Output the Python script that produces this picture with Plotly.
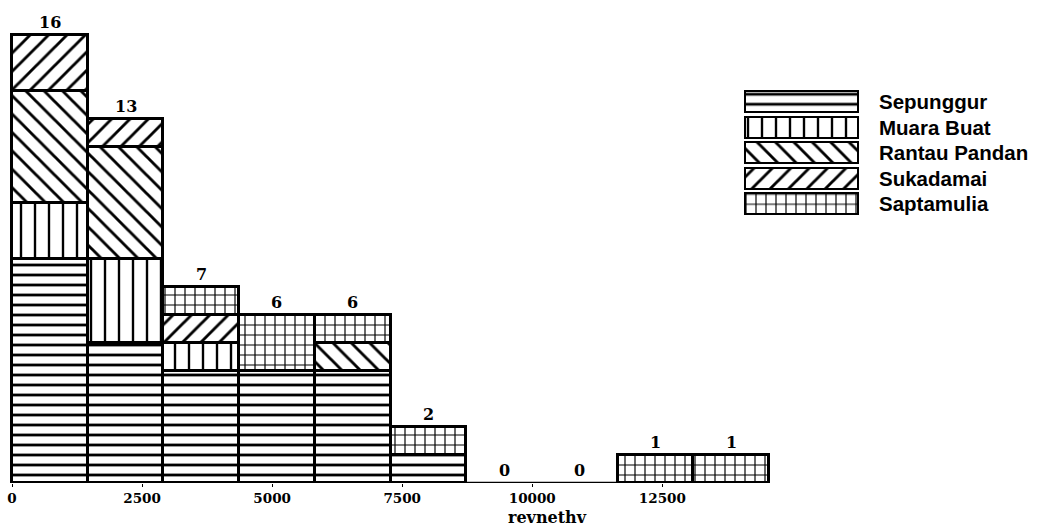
import plotly.graph_objects as go

# ---- data -----------------------------------------------------------------
villages = ["Sepunggur", "Muara Buat", "Rantau Pandan", "Sukadamai", "Saptamulia"]

bin_start = 0
bin_width = 1455
n_bins = 10

sepunggur = [8, 5, 4, 4, 4, 1, 0, 0, 0, 0]
muara_buat = [2, 3, 1, 0, 0, 0, 0, 0, 0, 0]
rantau_pandan = [4, 4, 0, 0, 1, 0, 0, 0, 0, 0]
sukadamai = [2, 1, 1, 0, 0, 0, 0, 0, 0, 0]
saptamulia = [0, 0, 1, 2, 1, 1, 0, 0, 1, 1]

tick_values = [0, 2500, 5000, 7500, 10000, 12500]
tick_labels = ["0", "2500", "5000", "7500", "10000", "12500"]
axis_title = "revnethv"

# ---- styling --------------------------------------------------------------
series = [sepunggur, muara_buat, rantau_pandan, sukadamai, saptamulia]
hatches = {
    "Sepunggur": dict(shape="-", size=10, solidity=0.28),
    "Muara Buat": dict(shape="|", size=14, solidity=0.17),
    "Rantau Pandan": dict(shape="\\", size=13, solidity=0.22),
    "Sukadamai": dict(shape="/", size=13, solidity=0.22),
    "Saptamulia": dict(shape="+", size=10, solidity=0.22),
}

W, H = 1042, 531
M_T, M_B = 10, 48
plot_h = H - M_T - M_B
base_px = H - M_B            # pixel row of y = 0
x0_px, x_end_px = 12, 769    # pixel columns of the first and last bin edge
dom_end_px = 800
px_per_count = 28.0

edges = [bin_start + i * bin_width for i in range(n_bins + 1)]
centers = [bin_start + (i + 0.5) * bin_width for i in range(n_bins)]
totals = [sum(s[i] for s in series) for i in range(n_bins)]

k = (x_end_px - x0_px) / (edges[-1] - edges[0])
x_range = [edges[0] - x0_px / k, edges[0] + (dom_end_px - x0_px) / k]
y_top = plot_h / px_per_count

OUTLINE = 2.6
SERIF = "DejaVu Serif"
fig = go.Figure()

for name, vals in zip(villages, series):
    fig.add_trace(go.Bar(
        x=centers,
        y=[v if v else None for v in vals],
        width=bin_width,
        name=name,
        showlegend=False,
        marker=dict(
            color="white",
            line=dict(color="black", width=OUTLINE),
            pattern=dict(fgcolor="black", bgcolor="white", fgopacity=1,
                         fillmode="replace", **hatches[name]),
        ),
        xaxis="x", yaxis="y",
    ))

# legend swatches drawn as horizontal bars on their own small axes
for i, name in enumerate(villages):
    fig.add_trace(go.Bar(
        x=[1], y=[i], base=0, orientation="h", width=0.82,
        showlegend=False, hoverinfo="skip",
        marker=dict(
            color="white",
            line=dict(color="black", width=2.2),
            pattern=dict(fgcolor="black", bgcolor="white", fgopacity=1,
                         fillmode="replace", **hatches[name]),
        ),
        xaxis="x2", yaxis="y2",
    ))

annotations = []
for c, t in zip(centers, totals):
    annotations.append(dict(
        x=c, y=t, xref="x", yref="y", text=f"<b>{t}</b>", showarrow=False,
        yanchor="middle", yshift=13,
        font=dict(family=SERIF, size=16, color="black"),
    ))

annotations.append(dict(
    x=547 / W, y=-(517 - base_px) / plot_h, xref="paper", yref="paper",
    text=f"<b>{axis_title}</b>", showarrow=False, xanchor="center",
    yanchor="middle",
    font=dict(family=SERIF, size=16, color="black"),
))

for i, name in enumerate(villages):
    annotations.append(dict(
        x=877 / W, y=i, xref="paper", yref="y2", text=f"<b>{name}</b>",
        showarrow=False, xanchor="left", yanchor="middle",
        font=dict(family="Liberation Sans", size=20.5, color="black"),
    ))

# legend axis geometry (pixels)
lg_l, lg_r = 745, 858
lg_pad = 4
lg_k = lg_r - lg_l
lg_top, lg_bot = 89.25, 216.75

fig.update_layout(
    width=W, height=H,
    margin=dict(l=0, r=0, t=M_T, b=M_B),
    paper_bgcolor="white", plot_bgcolor="white",
    barmode="stack", bargap=0,
    annotations=annotations,
    shapes=[dict(type="line", xref="x", yref="y",
                 x0=edges[0], x1=edges[-1], y0=0, y1=0,
                 line=dict(color="black", width=OUTLINE))],
    xaxis=dict(
        domain=[0, dom_end_px / W], range=x_range,
        tickvals=tick_values, ticktext=[f"<b>{t}</b>" for t in tick_labels],
        ticks="outside", ticklen=3, tickcolor="black",
        showgrid=False, zeroline=False, showline=False,
        tickfont=dict(family=SERIF, size=13.5, color="black"),
    ),
    yaxis=dict(range=[0, y_top], visible=False),
    xaxis2=dict(
        domain=[(lg_l - lg_pad) / W, (lg_r + lg_pad) / W],
        range=[-lg_pad / lg_k, 1 + lg_pad / lg_k],
        anchor="y2", visible=False,
    ),
    yaxis2=dict(
        domain=[(base_px - lg_bot) / plot_h, (base_px - lg_top) / plot_h],
        range=[len(villages) - 0.5, -0.5],
        anchor="x2", visible=False,
    ),
)

fig.write_html("out.html")
